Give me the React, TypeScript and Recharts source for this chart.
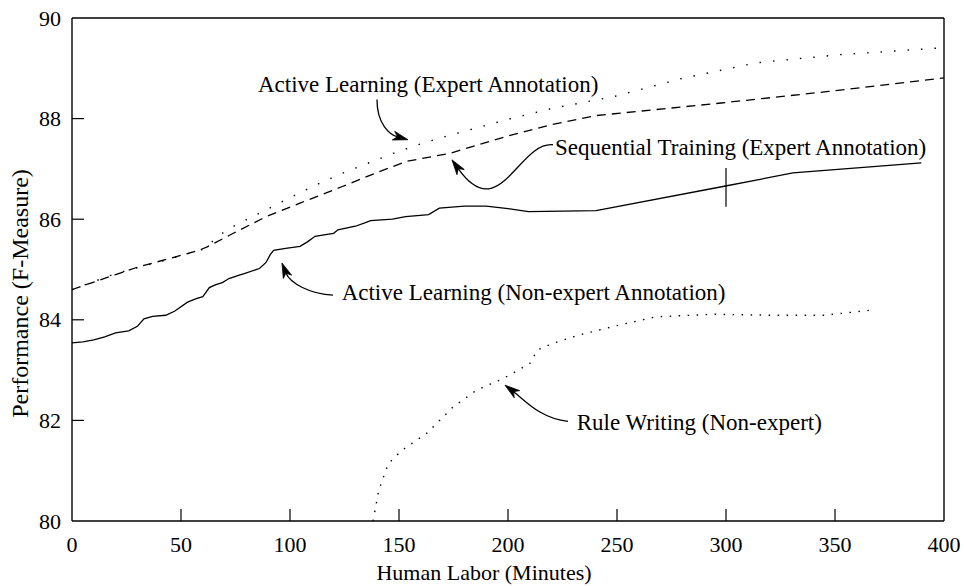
import React from 'react';
import { LineChart, Line, XAxis, YAxis, ReferenceLine, ReferenceDot } from 'recharts';

const FONT = '"Liberation Serif", "Times New Roman", Times, serif';

const xTicks = [0, 50, 100, 150, 200, 250, 300, 350, 400];
const yTicks = [80, 82, 84, 86, 88, 90];

// Active Learning (Non-expert Annotation) - solid
const alNonExpertX = [0, 5, 10, 15, 20, 26, 30, 33, 37, 43, 47, 49, 53, 57, 60, 63, 66, 69, 72, 76, 79, 86, 89, 91, 92.5, 98, 104.6, 108, 111.5, 117, 120, 122, 130, 134, 137, 147, 153, 163.6, 168.5, 180, 190, 200, 209.4, 240.4, 298.6, 330.7, 389.6];
const alNonExpertY = [83.54, 83.56, 83.6, 83.66, 83.74, 83.78, 83.87, 84.02, 84.07, 84.09, 84.17, 84.23, 84.35, 84.42, 84.46, 84.64, 84.7, 84.74, 84.82, 84.88, 84.92, 85.02, 85.14, 85.3, 85.38, 85.42, 85.46, 85.55, 85.66, 85.7, 85.72, 85.79, 85.86, 85.92, 85.97, 86.0, 86.05, 86.09, 86.22, 86.26, 86.26, 86.21, 86.15, 86.17, 86.65, 86.92, 87.12];

// Sequential Training (Expert Annotation) - dashed
const seqExpertX = [0, 10, 20, 31, 45, 58.7, 62, 74, 89, 104.6, 124, 140, 153.5, 173.4, 199.5, 220, 240.4, 297.8, 347, 400];
const seqExpertY = [84.6, 84.75, 84.9, 85.06, 85.22, 85.39, 85.45, 85.72, 86.05, 86.32, 86.65, 86.93, 87.15, 87.31, 87.65, 87.88, 88.06, 88.31, 88.54, 88.81];

// Active Learning (Expert Annotation) - dotted
const alExpertX = [0, 20, 40, 60, 71, 86, 101, 113.8, 126, 139.8, 147.4, 160, 171.8, 199.5, 220, 248.7, 280, 314, 352, 400];
const alExpertY = [84.6, 84.92, 85.15, 85.4, 85.79, 86.12, 86.45, 86.72, 86.95, 87.18, 87.31, 87.5, 87.65, 87.98, 88.2, 88.44, 88.8, 89.11, 89.27, 89.41];

// Rule Writing (Non-expert) - dotted
const ruleX = [138.1, 140.7, 145.1, 151.2, 162.6, 174.9, 185.5, 197.7, 210, 213.5, 220.5, 232.8, 250.5, 267.9, 294.3, 320.6, 345, 366.3];
const ruleY = [80.0, 80.61, 81.14, 81.4, 81.74, 82.27, 82.6, 82.83, 83.13, 83.4, 83.53, 83.7, 83.89, 84.06, 84.11, 84.09, 84.09, 84.19];

// error bar on the solid curve
const errX = 300;
const errLow = 86.25;
const errHigh = 87.02;

// annotation labels (data coords of text baseline start)
const labels = [
  { text: 'Active Learning (Expert Annotation)', x: 85.3, y: 88.53 },
  { text: 'Sequential Training (Expert Annotation)', x: 221.6, y: 87.28 },
  { text: 'Active Learning (Non-expert Annotation)', x: 123.7, y: 84.39 },
  { text: 'Rule Writing (Non-expert)', x: 231.5, y: 81.8 },
];

// arrows: cubic curves in data coordinates
type Pt = [number, number];
interface Arrow { start: Pt; c1: Pt; c2: Pt; tip: Pt }
const arrows: Arrow[] = [
  { start: [139.9, 88.38], c1: [139.9, 87.88], c2: [145.9, 87.68], tip: [154.1, 87.58] },
  { start: [220.6, 87.48], c1: [205.0, 87.55], c2: [196.0, 85.85], tip: [174.3, 87.18] },
  { start: [119.7, 84.49], c1: [109.2, 84.51], c2: [100.0, 84.73], tip: [96.3, 85.13] },
  { start: [227.5, 81.98], c1: [214.7, 82.04], c2: [207.8, 82.4], tip: [198.6, 82.7] },
];

const zip = (xs: number[], ys: number[]) => xs.map((x, i) => ({ x, y: ys[i] }));
const alNonExpert = zip(alNonExpertX, alNonExpertY);
const seqExpert = zip(seqExpertX, seqExpertY);
const alExpert = zip(alExpertX, alExpertY);
const rule = zip(ruleX, ruleY);

const TICK_LEN = 12;

const BottomTick = (props: any) => {
  const { x, y, payload } = props;
  return (
    <g>
      {payload.value !== 0 && payload.value !== 400 && (
        <line x1={x} y1={y} x2={x} y2={y - TICK_LEN} stroke="#000" strokeWidth={1.2} />
      )}
      <text x={x} y={y + 31} textAnchor="middle" fontFamily={FONT} fontSize={22} fill="#000">
        {payload.value}
      </text>
    </g>
  );
};

const LeftTick = (props: any) => {
  const { x, y, payload } = props;
  return (
    <g>
      {payload.value !== 80 && payload.value !== 90 && (
        <line x1={x} y1={y} x2={x + TICK_LEN} y2={y} stroke="#000" strokeWidth={1.2} />
      )}
      <text x={x - 11} y={y + 7.5} textAnchor="end" fontFamily={FONT} fontSize={22} fill="#000">
        {payload.value}
      </text>
    </g>
  );
};

const TopTick = (props: any) => {
  const { x, y, payload } = props;
  if (payload.value === 0 || payload.value === 400) return <g />;
  return <line x1={x} y1={y} x2={x} y2={y + TICK_LEN} stroke="#000" strokeWidth={1.2} />;
};

const RightTick = (props: any) => {
  const { x, y, payload } = props;
  if (payload.value === 80 || payload.value === 90) return <g />;
  return <line x1={x} y1={y} x2={x - TICK_LEN} y2={y} stroke="#000" strokeWidth={1.2} />;
};

const makeArrowShape = (a: Arrow) => (props: any) => {
  const { x1, y1, x2, y2 } = props;
  const sx = (x2 - x1) / (a.tip[0] - a.start[0]);
  const sy = (y2 - y1) / (a.tip[1] - a.start[1]);
  const px = (v: number) => x1 + (v - a.start[0]) * sx;
  const py = (v: number) => y1 + (v - a.start[1]) * sy;
  const p0 = [px(a.start[0]), py(a.start[1])];
  const p1 = [px(a.c1[0]), py(a.c1[1])];
  const p2 = [px(a.c2[0]), py(a.c2[1])];
  const p3 = [px(a.tip[0]), py(a.tip[1])];
  let dx = p3[0] - p2[0];
  let dy = p3[1] - p2[1];
  const len = Math.hypot(dx, dy) || 1;
  dx /= len;
  dy /= len;
  const nx = -dy;
  const ny = dx;
  const L = 15;
  const W = 4.5;
  const back = [p3[0] - L * dx, p3[1] - L * dy];
  const notch = [p3[0] - 0.72 * L * dx, p3[1] - 0.72 * L * dy];
  const head = `M${p3[0]},${p3[1]} L${back[0] + W * nx},${back[1] + W * ny} L${notch[0]},${notch[1]} L${back[0] - W * nx},${back[1] - W * ny} Z`;
  const curve = `M${p0[0]},${p0[1]} C${p1[0]},${p1[1]} ${p2[0]},${p2[1]} ${notch[0]},${notch[1]}`;
  return (
    <g>
      <path d={curve} fill="none" stroke="#000" strokeWidth={1.3} />
      <path d={head} fill="#000" stroke="#000" strokeWidth={0.8} />
    </g>
  );
};

const makeLabelShape = (text: string) => (props: any) => {
  const { cx, cy } = props;
  return (
    <text x={cx} y={cy} fontFamily={FONT} fontSize={23} fill="#000">
      {text}
    </text>
  );
};

const XTitle = (props: any) => {
  const { viewBox } = props;
  const cx = viewBox.x + viewBox.width / 2 - 24;
  return (
    <text x={cx} y={580} textAnchor="middle" fontFamily={FONT} fontSize={22} fill="#000">
      Human Labor (Minutes)
    </text>
  );
};

const YTitle = (props: any) => {
  const { viewBox } = props;
  const cy = viewBox.y + viewBox.height / 2 + 24;
  const cx = 28;
  return (
    <text
      x={cx}
      y={cy}
      textAnchor="middle"
      transform={`rotate(-90, ${cx}, ${cy})`}
      fontFamily={FONT}
      fontSize={24}
      fill="#000"
    >
      Performance (F-Measure)
    </text>
  );
};

export default function App() {
  return (
    <div style={{ position: 'absolute', left: 0, top: 0, background: '#fff' }}>
      <LineChart width={964} height={586} margin={{ top: 17, right: 19, bottom: 64, left: 71 }}>
        <XAxis
          type="number"
          dataKey="x"
          domain={[0, 400]}
          ticks={xTicks}
          interval={0}
          height={1}
          tickSize={0}
          tickMargin={0}
          tick={<BottomTick />}
          axisLine={{ stroke: '#000', strokeWidth: 1.4 }}
          allowDataOverflow
          label={<XTitle />}
        />
        <XAxis
          xAxisId="top"
          orientation="top"
          type="number"
          dataKey="x"
          domain={[0, 400]}
          ticks={xTicks}
          interval={0}
          height={1}
          tickSize={0}
          tickMargin={0}
          tick={<TopTick />}
          axisLine={{ stroke: '#000', strokeWidth: 1.4 }}
        />
        <YAxis
          type="number"
          dataKey="y"
          domain={[80, 90]}
          ticks={yTicks}
          interval={0}
          width={1}
          tickSize={0}
          tickMargin={0}
          tick={<LeftTick />}
          axisLine={{ stroke: '#000', strokeWidth: 1.4 }}
          allowDataOverflow
          label={<YTitle />}
        />
        <YAxis
          yAxisId="right"
          orientation="right"
          type="number"
          domain={[80, 90]}
          ticks={yTicks}
          interval={0}
          width={1}
          tickSize={0}
          tickMargin={0}
          tick={<RightTick />}
          axisLine={{ stroke: '#000', strokeWidth: 1.4 }}
        />
        <Line
          data={alExpert}
          dataKey="y"
          type="linear"
          stroke="#000"
          strokeWidth={1.4}
          strokeDasharray="1.5 12"
          dot={false}
          isAnimationActive={false}
        />
        <Line
          data={seqExpert}
          dataKey="y"
          type="linear"
          stroke="#000"
          strokeWidth={1.3}
          strokeDasharray="9 6"
          dot={false}
          isAnimationActive={false}
        />
        <Line
          data={alNonExpert}
          dataKey="y"
          type="linear"
          stroke="#000"
          strokeWidth={1.3}
          dot={false}
          isAnimationActive={false}
        />
        <Line
          data={rule}
          dataKey="y"
          type="linear"
          stroke="#000"
          strokeWidth={1.4}
          strokeDasharray="1.5 7.5"
          dot={false}
          isAnimationActive={false}
        />
        <ReferenceLine
          segment={[{ x: errX, y: errLow }, { x: errX, y: errHigh }]}
          stroke="#000"
          strokeWidth={1.2}
        />
        {arrows.map((a, i) => (
          <ReferenceLine
            key={`arrow-${i}`}
            segment={[{ x: a.start[0], y: a.start[1] }, { x: a.tip[0], y: a.tip[1] }]}
            shape={makeArrowShape(a)}
          />
        ))}
        {labels.map((l, i) => (
          <ReferenceDot key={`lab-${i}`} x={l.x} y={l.y} r={1} shape={makeLabelShape(l.text)} />
        ))}
      </LineChart>
    </div>
  );
}
